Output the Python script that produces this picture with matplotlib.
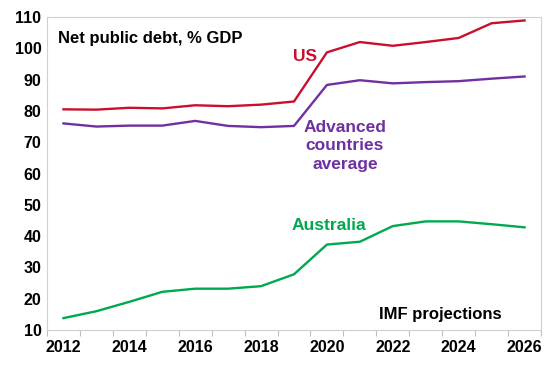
import numpy as np
import matplotlib.pyplot as plt

plt.rcParams['font.family'] = ['Liberation Sans', 'DejaVu Sans']
plt.rcParams['font.weight'] = 'bold'

years = list(range(2012, 2027))
us = [80.5, 80.4, 81.0, 80.8, 81.8, 81.5, 82.0, 83.0, 98.7, 102.0, 100.8, 102.0, 103.3, 108.0, 108.9]
advanced = [76.0, 75.0, 75.3, 75.3, 76.8, 75.2, 74.8, 75.2, 88.3, 89.8, 88.8, 89.2, 89.5, 90.3, 91.0]
australia = [13.8, 16.0, 19.0, 22.2, 23.2, 23.2, 24.0, 27.8, 37.3, 38.2, 43.2, 44.7, 44.7, 43.8, 42.8]

c_us = '#C8102E'
c_adv = '#7030A0'
c_aus = '#00A94F'

fig = plt.figure(figsize=(5.48, 3.66), dpi=100)
ax = fig.add_axes([47 / 548, 1 - 330 / 366, (541 - 47) / 548, (330 - 17) / 366])

x = np.arange(len(years))
ax.plot(x, us, color=c_us, lw=1.7)
ax.plot(x, advanced, color=c_adv, lw=1.7)
ax.plot(x, australia, color=c_aus, lw=1.7)

ax.set_xlim(-0.5, len(years) - 0.5)
ax.set_ylim(10, 110)
ax.set_yticks(range(10, 111, 10))
ax.tick_params(axis='y', length=0, labelsize=11.5, pad=4)

# category-style x axis: ticks between years, labels every other year
ax.set_xticks(np.arange(-0.5, len(years), 1))
ax.set_xticklabels([])
ax.set_xticks(x[::2], minor=True)
ax.set_xticklabels([str(y) for y in years[::2]], minor=True)
ax.tick_params(axis='x', which='major', length=4, color='#BFBFBF', direction='out')
ax.tick_params(axis='x', which='minor', length=0, labelsize=11.5, pad=7)

for s in ax.spines.values():
    s.set_color('#D0D0D0')
    s.set_linewidth(0.8)

ax.text(0.022, 0.955, 'Net public debt, % GDP', transform=ax.transAxes,
        fontsize=12, va='top', ha='left')
ax.text(7.33, 97.5, 'US', color=c_us, fontsize=12.5, ha='center', va='center')
ax.text(8.55, 68.8, 'Advanced\ncountries\naverage', color=c_adv, fontsize=12.5,
        ha='center', va='center', linespacing=1.3)
ax.text(8.06, 43.5, 'Australia', color=c_aus, fontsize=12.5, ha='center', va='center')
ax.text(11.43, 14.8, 'IMF projections', fontsize=12, ha='center', va='center')

fig.savefig('out.png', dpi=100)
